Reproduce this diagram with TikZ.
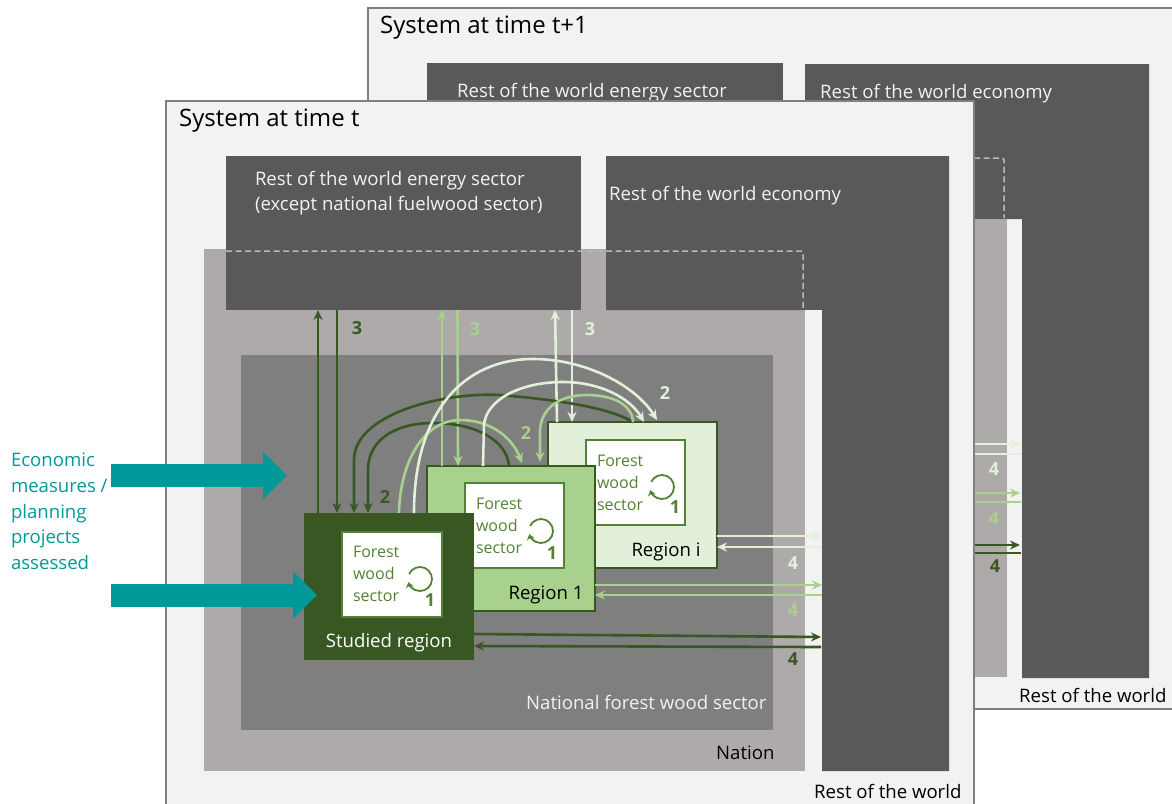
\documentclass[tikz,border=0pt]{standalone}
\usepackage{fontspec}
\setmainfont{Open Sans}
\usetikzlibrary{arrows.meta,calc}
\definecolor{panelc}{HTML}{F2F2F2}
\definecolor{darkbox}{HTML}{595959}
\definecolor{nationc}{HTML}{AEAAAA}
\definecolor{natfw}{HTML}{7F7F7F}
\definecolor{gdark}{HTML}{385723}
\definecolor{gmid}{HTML}{A9D18E}
\definecolor{glight}{HTML}{E2F0D9}
\definecolor{gline}{HTML}{548235}
\definecolor{teal}{HTML}{009999}
\newcommand{\txt}{\fontsize{18.6}{25}\selectfont}
\tikzset{
  box/.style={anchor=north west,inner sep=0pt,outer sep=0pt},
  panel/.style={box,fill=panelc,draw=natfw,line width=1.2pt},
  sysbox/.style={box,fill=darkbox},
  regionbox/.style={box,draw=gline,line width=1.3pt},
  inner/.style={box,fill=white,draw=gline,line width=1.3pt},
  lab/.style={anchor=base west,inner sep=0pt,font=\txt},
  wlab/.style={lab,text=panelc},
  num/.style={inner sep=0pt,font=\fontsize{18}{20}\selectfont\bfseries},
  fw/.style={box,inner sep=0pt,align=left,text=gline,font=\fontsize{16}{22}\selectfont},
  lnk/.style={line width=2.6pt,-{Stealth[length=10pt,width=9pt]}},
  lnkd/.style={lnk,gdark},
  lnkm/.style={lnk,gmid},
  lnkl/.style={lnk,glight},
  dashline/.style={draw=nationc!85!white,line width=1.5pt,dash pattern=on 6pt off 3.5pt,rounded corners=2pt},
  blockar/.style={line width=23pt,teal,-{Triangle[length=24pt,width=46pt]}},
  loopar/.style={gline,line width=1.8pt,-{Stealth[length=5.5pt,width=8pt]}},
}
\newcommand{\loopicon}[1]{\draw[loopar] ([shift={(205:12)}]#1) arc (205:525:12);}
\begin{document}
\begin{tikzpicture}[x=1pt,y=-1pt]
\clip (0,0) rectangle (1172,803);
\fill[white] (0,0) rectangle (1172,803);
% ===== system at t+1
\node[panel,minimum width=900pt,minimum height=701pt] (backpanel) at (368,8) {};
\node[sysbox,minimum width=356pt,minimum height=200pt] (backenergy) at (427,63) {};
\fill[darkbox] (805,64) -- (1149,64) -- (1149,678) -- (1022,678) -- (1022,219) -- (805,219) -- cycle;
\fill[nationc] (974,219) rectangle (1007,677);
\draw[dashline] (974,158) -- (1004,158) -- (1004,218);
\node[lab] (backsys) at (380,33) {\fontsize{24}{26}\selectfont System at time t+1};
\node[wlab] (backenergylab) at (457,97) {Rest of the world energy sector};
\node[wlab] (backecolab) at (820,98) {Rest of the world economy};
\node[lab] (backrow) at (1019,702) {Rest of the world};
\coordinate (bl1) at (974,444); \coordinate (bl1e) at (1020,444);
\coordinate (bl2) at (974,454); \coordinate (bl2e) at (1021,454);
\coordinate (bm1) at (974,493); \coordinate (bm1e) at (1020,493);
\coordinate (bm2) at (974,502); \coordinate (bm2e) at (1021,502);
\coordinate (bd1) at (974,545); \coordinate (bd1e) at (1020,545);
\coordinate (bd2) at (974,553); \coordinate (bd2e) at (1021,553);
\draw[lnkl] (bl1) -- (bl1e); \draw[glight,line width=2.6pt] (bl2) -- (bl2e);
\draw[lnkm] (bm1) -- (bm1e); \draw[gmid,line width=2.6pt] (bm2) -- (bm2e);
\draw[lnkd] (bd1) -- (bd1e); \draw[gdark,line width=2.6pt] (bd2) -- (bd2e);
\node[num,text=glight] (b4l) at (994,469) {4};
\node[num,text=gmid] (b4m) at (994,518) {4};
\node[num,text=gdark] (b4d) at (995,566) {4};
% ===== system at t
\node[panel,minimum width=808pt,minimum height=740pt] (panelT) at (166,101) {};
\node[box,fill=nationc,minimum width=601pt,minimum height=522pt] (nation) at (204,249) {};
\node[box,fill=natfw,minimum width=532pt,minimum height=375pt] (natsector) at (241,355) {};
\node[sysbox,minimum width=355pt,minimum height=154pt] (energy) at (226,156) {};
\fill[darkbox] (606,156) -- (949,156) -- (949,771) -- (822,771) -- (822,310) -- (606,310) -- cycle;
\fill[panelc] (805,310) rectangle (822,771);
\draw[dashline] (226,251) -- (803,251) -- (803,310);
\node[lab] (syst) at (179,126) {\fontsize{24}{26}\selectfont System at time t};
\node[box,align=left,text=panelc,font=\txt] (energylab) at (255,171) {Rest of the world energy sector\\(except national fuelwood sector)};
\node[wlab] (ecolab) at (609,200) {Rest of the world economy};
\node[wlab] (natlab) at (526,709) {National forest wood sector};
\node[lab] (nationlab) at (716,759) {Nation};
\node[lab] (rowlab) at (814,798) {Rest of the world};
% regions
\node[regionbox,draw=gdark,fill=glight,minimum width=169pt,minimum height=146pt] (regi) at (548,422) {};
\node[inner,minimum width=99pt,minimum height=85pt] (inneri) at (586,440) {};
\node[regionbox,draw=gdark,fill=gmid,minimum width=168pt,minimum height=145pt] (reg1) at (427,466) {};
\node[inner,minimum width=99pt,minimum height=85pt] (inner1) at (465,483) {};
\node[box,fill=gdark,minimum width=170pt,minimum height=147pt] (studied) at (304,513) {};
\node[inner,minimum width=100pt,minimum height=85pt] (inners) at (342,532) {};
\node[fw] (fwi) at ($(inneri.north west)+(11,15)$) {Forest\\wood\\sector};
\node[fw] (fw1) at ($(inner1.north west)+(11,15)$) {Forest\\wood\\sector};
\node[fw] (fws) at ($(inners.north west)+(11,14)$) {Forest\\wood\\sector};
\coordinate (li) at (662,487); \coordinate (l1) at (541,531); \coordinate (ls) at (420,579);
\loopicon{li} \loopicon{l1} \loopicon{ls}
\node[num,text=gline] (n1i) at (675,507) {1};
\node[num,text=gline] (n11) at (552,553) {1};
\node[num,text=gline] (n1s) at (430,600) {1};
\node[lab,anchor=base,text=black] (regilab) at (666,556) {Region i};
\node[lab,anchor=base,text=black] (reg1lab) at (546,599) {Region 1};
\node[lab,anchor=base,text=white] (studlab) at (389,647) {Studied region};
% flows 3
\draw[lnkd] ($(studied.north west)+(14,0)$) -- ($(energy.south west)+(92,0)$);
\draw[lnkd] ($(energy.south west)+(111,0)$) -- ($(studied.north west)+(33,0)$);
\draw[lnkm] ($(reg1.north west)+(15,0)$) -- ($(energy.south west)+(216,0)$);
\draw[lnkm] ($(energy.south west)+(231.5,0)$) -- ($(reg1.north west)+(31,0)$);
\draw[lnkl] ($(regi.north west)+(9,0)$) -- ($(energy.south west)+(329,0)$);
\draw[lnkl] ($(energy.south west)+(346,0)$) -- ($(regi.north west)+(24,0)$);
\node[num,text=gdark] (t3d) at (357,328) {3};
\node[num,text=gmid] (t3m) at (475,329) {3};
\node[num,text=glight] (t3l) at (590,329) {3};
% flows 2
\coordinate (ri) at ($(regi.north west)+(85,0)$);
\draw[lnkd] (ri) .. controls (610,408) and (560,400) .. (500,395)
   .. controls (440,392) and (354,415) .. (354,460) -- ($(studied.north west)+(50,0)$);
\draw[lnkd] ($(reg1.north west)+(82,0)$) .. controls (507,440) and (475,423) .. (433,423)
   .. controls (395,423) and (368,440) .. (368,470) -- ($(studied.north west)+(64,0)$);
\draw[lnkm] ($(studied.north west)+(95,0)$) .. controls (400,460) and (425,420) .. (460,420)
   .. controls (490,420) and (512,437) .. ($(reg1.north west)+(95,-3)$);
\draw[lnkm] (ri) .. controls (632,403) and (610,395) .. (587,395)
   .. controls (555,395) and (540,412) .. (540,432) -- ($(reg1.north west)+(113,-4)$);
\draw[lnkl] ($(studied.north west)+(110,0)$) .. controls (414,410) and (465,359) .. (533,359)
   .. controls (585,359) and (635,385) .. ($(regi.north west)+(109,-2)$);
\draw[lnkl] ($(reg1.north west)+(56,0)$) -- (484,425) .. controls (486,400) and (520,382) .. (563,382)
   .. controls (600,382) and (630,398) .. ($(regi.north west)+(96,0)$);
\node[num,text=gdark] (t2d) at (385,497) {2};
\node[num,text=gmid] (t2m) at (526,433) {2};
\node[num,text=glight] (t2l) at (665,393) {2};
% flows 4
\coordinate (el1) at (821,536); \coordinate (el2) at (821,547);
\coordinate (em1) at (822,585); \coordinate (em2) at (822,595);
\coordinate (ed1) at (821,637); \coordinate (ed2) at (821,647);
\draw[lnkl] (regi.east |- el1) -- (el1);
\draw[lnkl] (el2) -- (regi.east |- el2);
\draw[lnkm] (reg1.east |- em1) -- (em1);
\draw[lnkm] (em2) -- (reg1.east |- em2);
\draw[lnkd] ($(studied.east |- ed1)+(0,-3)$) -- (ed1);
\draw[lnkd] (ed2) -- ($(studied.east |- ed2)+(0,-1)$);
\node[num,text=glight] (f4l) at (793,563) {4};
\node[num,text=gmid] (f4m) at (793,610) {4};
\node[num,text=gdark] (f4d) at (793,659) {4};
% measures
\node[box,align=left,text=teal,font=\fontsize{18.6}{25.7}\selectfont] (measures) at (11,453) {Economic\\measures /\\planning\\projects\\assessed};
\coordinate (m1a) at (111,475.5); \coordinate (m1b) at (287,475.5);
\coordinate (m2a) at (111,595); \coordinate (m2b) at (317,595);
\draw[blockar] (m1a) -- (m1b);
\draw[blockar] (m2a) -- (m2b);
\end{tikzpicture}
\end{document}
